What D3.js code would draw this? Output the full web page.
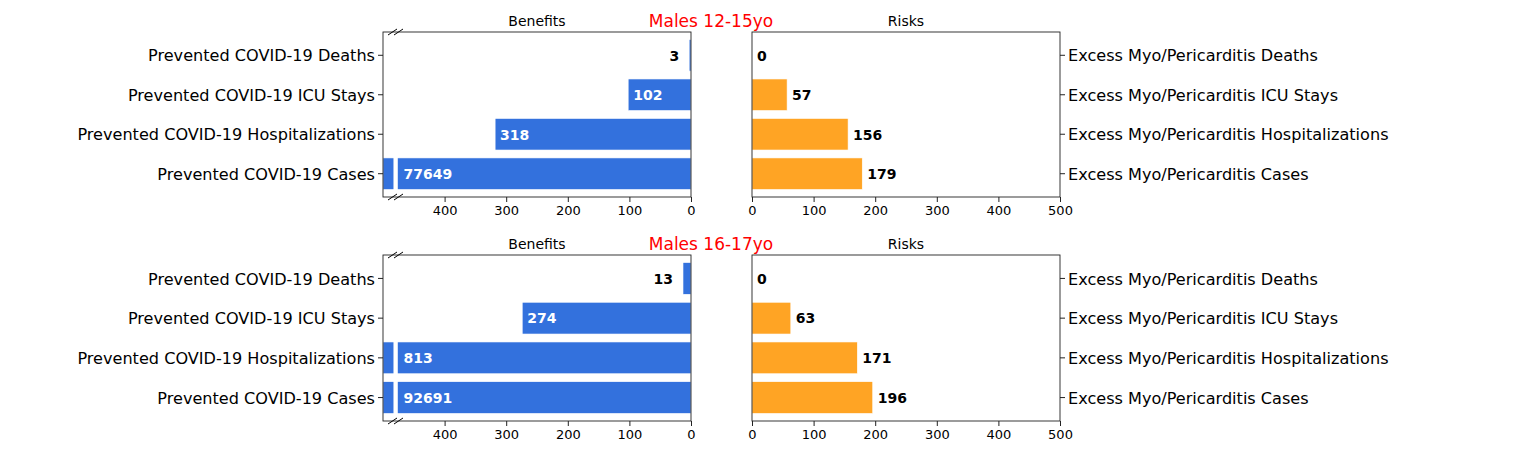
<!DOCTYPE html>
<html lang="en">
<head>
  <meta charset="UTF-8">
  <title>Benefits vs Risks</title>
  <script src="https://d3js.org/d3.v7.min.js"></script>
  <style>
    body { margin: 0; background: #fff; }
    text { font-family: "DejaVu Sans", sans-serif; }
    .axis path, .axis line { stroke: #222; }
  </style>
</head>
<body>
  <script>
    // data
    var benefitLabels = ["Prevented COVID-19 Deaths", "Prevented COVID-19 ICU Stays",
      "Prevented COVID-19 Hospitalizations", "Prevented COVID-19 Cases"];
    var riskLabels = ["Excess Myo/Pericarditis Deaths", "Excess Myo/Pericarditis ICU Stays",
      "Excess Myo/Pericarditis Hospitalizations", "Excess Myo/Pericarditis Cases"];
    var groups = ["Males 12-15yo", "Males 16-17yo"];
    var benefits1 = [3, 102, 318, 77649];
    var risks1 = [0, 57, 156, 179];
    var benefits2 = [13, 274, 813, 92691];
    var risks2 = [0, 63, 171, 196];
    var xTicks = [0, 100, 200, 300, 400, 500];

    var w = 1530, h = 458;
    var blue = "#3371dd", orange = "#ffa424";
    var xMax = 500, breakAt = 476, breakGap = 7;

    var svg = d3.select("body").append("svg")
      .attr("width", w).attr("height", h);

    function drawPanel(top, bottom, title, benefits, risks) {
      var idx = d3.range(benefits.length);
      var y = d3.scaleBand().domain(idx).range([top, bottom])
        .paddingInner(0.2).paddingOuter(0.19);

      var xb = d3.scaleLinear().domain([xMax, 0]).range([383, 691]);
      var xr = d3.scaleLinear().domain([0, xMax]).range([752, 1060]);

      // ---- benefits ----
      var gb = svg.append("g");
      gb.selectAll("rect.bar").data(idx).enter().append("rect")
        .attr("class", "bar")
        .attr("x", function(i) { return xb(Math.min(benefits[i], xMax)); })
        .attr("y", function(i) { return y(i); })
        .attr("width", function(i) { return xb(0) - xb(Math.min(benefits[i], xMax)); })
        .attr("height", y.bandwidth())
        .attr("fill", blue)
        .attr("stroke", "#fff").attr("stroke-width", 0.6);

      // white break across bars bigger than the axis
      gb.selectAll("rect.gap").data(idx.filter(function(i) { return benefits[i] > xMax; }))
        .enter().append("rect")
        .attr("x", xb(breakAt + breakGap))
        .attr("y", function(i) { return y(i) - 1; })
        .attr("width", xb(breakAt) - xb(breakAt + breakGap))
        .attr("height", y.bandwidth() + 2)
        .attr("fill", "#fff");

      gb.selectAll("text.val").data(idx).enter().append("text")
        .attr("class", "val")
        .attr("y", function(i) { return y(i) + y.bandwidth() / 2; })
        .attr("dy", "0.38em")
        .attr("font-size", "14px").attr("font-weight", "bold")
        .each(function(i) {
          var v = benefits[i], t = d3.select(this).text(v);
          if (v > xMax) {
            t.attr("x", xb(breakAt + breakGap) + 10).attr("fill", "#fff");
          } else if (v >= 60) {
            t.attr("x", xb(v) + 5).attr("fill", "#fff");
          } else {
            t.attr("x", xb(v) - 10).attr("text-anchor", "end").attr("fill", "#000");
          }
        });

      gb.append("g").attr("class", "axis")
        .attr("transform", "translate(0," + bottom + ")")
        .call(d3.axisBottom(xb).tickValues(xTicks.slice(0, 5)).tickSize(5).tickPadding(4))
        .call(function(g) { g.select(".domain").remove(); })
        .selectAll("text").attr("font-size", "13px").attr("fill", "#000")
        .style("font-family", "DejaVu Sans");

      gb.append("g").attr("class", "axis")
        .attr("transform", "translate(383,0)")
        .call(d3.axisLeft(y).tickFormat(function(i) { return benefitLabels[i]; })
          .tickSize(5).tickPadding(3))
        .call(function(g) { g.select(".domain").remove(); })
        .selectAll("text").attr("font-size", "16.1px").attr("fill", "#000")
        .attr("dy", "0.38em")
        .style("font-family", "DejaVu Sans");

      gb.append("rect")
        .attr("x", 383).attr("y", top).attr("width", 691 - 383).attr("height", bottom - top)
        .attr("fill", "none").attr("stroke", "#222").attr("stroke-width", 0.9);

      // break marks
      [top, bottom].forEach(function(yy) {
        [0, 6].forEach(function(dx) {
          gb.append("line")
            .attr("x1", 388 + dx).attr("y1", yy + 3)
            .attr("x2", 397 + dx).attr("y2", yy - 3)
            .attr("stroke", "#000").attr("stroke-width", 1);
        });
      });

      gb.append("text").attr("x", 537).attr("y", top - 6)
        .attr("text-anchor", "middle").attr("font-size", "14px").text("Benefits");

      // ---- risks ----
      var gr = svg.append("g");
      gr.selectAll("rect.bar").data(idx).enter().append("rect")
        .attr("class", "bar")
        .attr("x", xr(0))
        .attr("y", function(i) { return y(i); })
        .attr("width", function(i) { return xr(risks[i]) - xr(0); })
        .attr("height", y.bandwidth())
        .attr("fill", orange)
        .attr("stroke", "#fff").attr("stroke-width", 0.6);

      gr.selectAll("text.val").data(idx).enter().append("text")
        .attr("x", function(i) { return xr(risks[i]) + 5; })
        .attr("y", function(i) { return y(i) + y.bandwidth() / 2; })
        .attr("dy", "0.38em")
        .attr("font-size", "14px").attr("font-weight", "bold")
        .text(function(i) { return risks[i]; });

      gr.append("g").attr("class", "axis")
        .attr("transform", "translate(0," + bottom + ")")
        .call(d3.axisBottom(xr).tickValues(xTicks).tickSize(5).tickPadding(4))
        .call(function(g) { g.select(".domain").remove(); })
        .selectAll("text").attr("font-size", "13px").attr("fill", "#000")
        .style("font-family", "DejaVu Sans");

      gr.append("g").attr("class", "axis")
        .attr("transform", "translate(1060,0)")
        .call(d3.axisRight(y).tickFormat(function(i) { return riskLabels[i]; })
          .tickSize(5).tickPadding(3))
        .call(function(g) { g.select(".domain").remove(); })
        .selectAll("text").attr("font-size", "16.1px").attr("fill", "#000")
        .attr("dy", "0.38em")
        .style("font-family", "DejaVu Sans");

      gr.append("rect")
        .attr("x", 752).attr("y", top).attr("width", 1060 - 752).attr("height", bottom - top)
        .attr("fill", "none").attr("stroke", "#222").attr("stroke-width", 0.9);

      gr.append("text").attr("x", 906).attr("y", top - 6)
        .attr("text-anchor", "middle").attr("font-size", "14px").text("Risks");

      svg.append("text").attr("x", 711).attr("y", top - 5)
        .attr("text-anchor", "middle").attr("font-size", "17px")
        .attr("fill", "red").text(title);
    }

    drawPanel(32, 197, groups[0], benefits1, risks1);
    drawPanel(255, 421, groups[1], benefits2, risks2);
  </script>
</body>
</html>
